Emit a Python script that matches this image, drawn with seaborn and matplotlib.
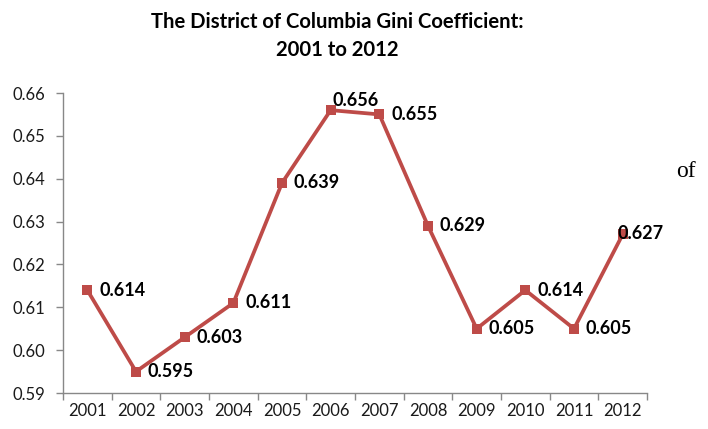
import numpy as np
import pandas as pd
import matplotlib
matplotlib.use("Agg")
import matplotlib.pyplot as plt
import seaborn as sns

years = ["2001", "2002", "2003", "2004", "2005", "2006",
         "2007", "2008", "2009", "2010", "2011", "2012"]
gini = [0.614, 0.595, 0.603, 0.611, 0.639, 0.656,
        0.655, 0.629, 0.605, 0.614, 0.605, 0.627]
labels = ["0.614", "0.595", "0.603", "0.611", "0.639", "0.656",
          "0.655", "0.629", "0.605", "0.614", "0.605", "0.627"]
yticks = [0.59, 0.60, 0.61, 0.62, 0.63, 0.64, 0.65, 0.66]
title = "The District of Columbia Gini Coefficient:\n2001 to 2012"

sns.set_theme(style="white")
plt.rcParams["font.family"] = ["Lato", "DejaVu Sans"]

df = pd.DataFrame({"year": years, "gini": gini})

fig = plt.figure(figsize=(7.08, 4.29), dpi=100)
ax = fig.add_axes([63 / 708, 1 - 393 / 429, (647 - 63) / 708, (393 - 93) / 429])

color = "#BE4B48"
sns.lineplot(data=df, x="year", y="gini", ax=ax, sort=False, color=color,
             linewidth=2.7, marker="s", markersize=7, markeredgewidth=0,
             markerfacecolor=color)

# label offsets (points) relative to marker: left-aligned, vertically centered
offsets = [(8.5, 0)] * 12
offsets[5] = (1, 7)
offsets[11] = (-4, 1)
for i, (v, t) in enumerate(zip(gini, labels)):
    dx, dy = offsets[i]
    ax.annotate(t, xy=(i, v), xytext=(dx, dy), textcoords="offset points",
                ha="left", va="center", fontsize=13, fontweight="bold",
                color="black")

ax.set_xlim(-0.5, len(years) - 0.5)
ax.set_ylim(0.59, 0.66)
ax.set_yticks(yticks)
ax.set_yticklabels([f"{t:.2f}" for t in yticks])
ax.set_xticks(range(len(years)))
ax.set_xticklabels(years)
ax.set_xticks(np.arange(-0.5, len(years), 1.0), minor=True)
ax.tick_params(axis="x", which="major", length=0, pad=7, labelsize=12,
               labelcolor="#1a1a1a")
ax.tick_params(axis="x", which="minor", length=5, width=1, color="#888888",
               direction="out", bottom=True)
ax.tick_params(axis="y", which="major", length=5, width=1, color="#888888",
               direction="out", left=True, pad=8, labelsize=12,
               labelcolor="#1a1a1a")
ax.set_xlabel("")
ax.set_ylabel("")
for s in ["top", "right"]:
    ax.spines[s].set_visible(False)
for s in ["left", "bottom"]:
    ax.spines[s].set_color("#888888")
    ax.spines[s].set_linewidth(1)

fig.text(337 / 708, 1 - 36 / 429, title, ha="center", va="center",
         fontsize=14.6, fontweight="bold", linespacing=1.45, color="black")
fig.text(686 / 708, 1 - 177 / 429, "of", ha="center", va="baseline",
         fontsize=17, family=["Liberation Serif", "DejaVu Serif"], color="black")

fig.savefig("out.png", dpi=100)
